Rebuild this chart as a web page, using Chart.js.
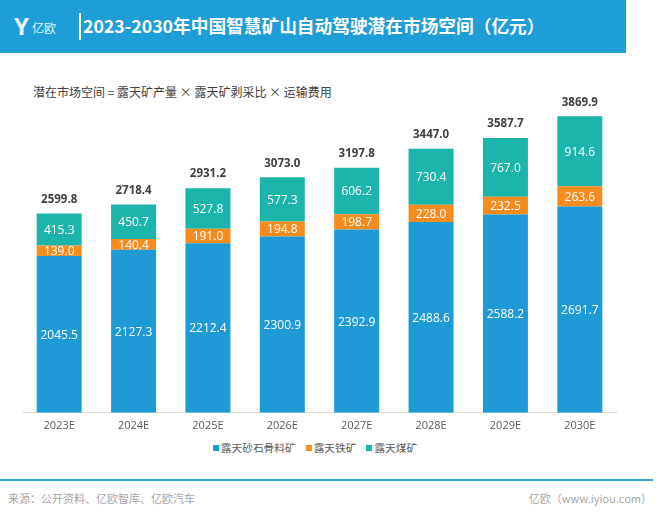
<!DOCTYPE html>
<html><head><meta charset="utf-8">
<script src="https://cdn.jsdelivr.net/npm/chart.js@4/dist/chart.umd.min.js"></script>
<style>
html,body{margin:0;padding:0;background:#fff;width:660px;height:528px;overflow:hidden;font-family:"Noto Sans CJK SC","Open Sans",sans-serif;}
#hdr{position:absolute;left:0;top:0;width:626px;height:53px;background:#1f9dd6;}
#logo{position:absolute;left:12px;top:13px;color:#fff;}
#logoY{position:absolute;left:2px;top:0;font:bold 24px "Open Sans",sans-serif;color:#e8f4fb;line-height:26px;}
#logoT{position:absolute;left:20px;top:8px;font:12px "Noto Sans CJK SC";color:#e8f4fb;white-space:nowrap;line-height:14px;}
#vl{position:absolute;left:79px;top:13px;width:1.5px;height:27px;background:#fff;}
#title{position:absolute;left:83px;top:12px;font:bold 17.7px "Noto Sans CJK SC";color:#fff;line-height:26px;white-space:nowrap;}
#sub{position:absolute;left:33px;top:83px;font:12px "Noto Sans CJK SC";color:#404040;white-space:nowrap;}
#fl{position:absolute;left:0;top:479px;width:653px;height:2px;background:#3aa3cf;}
#src{position:absolute;left:8px;top:490px;font:11px "Noto Sans CJK SC";color:#a6a6a6;}
#site{position:absolute;right:8px;top:490px;font:11px "Noto Sans CJK SC","Open Sans";color:#a6a6a6;}
#wrap{position:absolute;left:0;top:60px;width:660px;height:378px;}
#legend{position:absolute;left:0;top:440px;width:630px;text-align:center;font:10.7px "Noto Sans CJK SC";color:#595959;white-space:nowrap;}
#legend span.it{display:inline-block;margin:0 5px;}
#legend i{display:inline-block;width:6px;height:6px;margin-right:2px;vertical-align:1px;}
</style></head><body>
<div id="hdr">
 <div id="logo"><div id="logoY">Y</div><div id="logoT">亿欧</div></div>
 <div id="vl"></div>
 <div id="title">2023-2030年中国智慧矿山自动驾驶潜在市场空间（亿元）</div>
</div>
<div id="sub">潜在市场空间 = 露天矿产量 × 露天矿剥采比 × 运输费用</div>
<div id="wrap"><canvas id="c" width="660" height="378"></canvas></div>
<div id="legend"></div>
<div id="fl"></div>
<div id="src">来源：公开资料、亿欧智库、亿欧汽车</div>
<div id="site">亿欧（www.iyiou.com）</div>
<script>
const categories = ["2023E","2024E","2025E","2026E","2027E","2028E","2029E","2030E"];
const sandGravel = [2045.5,2127.3,2212.4,2300.9,2392.9,2488.6,2588.2,2691.7];
const ironOre   = [139.0,140.4,191.0,194.8,198.7,228.0,232.5,263.6];
const coal      = [415.3,450.7,527.8,577.3,606.2,730.4,767.0,914.6];
const totals    = [2599.8,2718.4,2931.2,3073.0,3197.8,3447.0,3587.7,3869.9];
const seriesNames = ["露天砂石骨料矿","露天铁矿","露天煤矿"];
const seriesColors = ['#1e9ad6','#f68b1f','#1bb5ac'];

const labelPlugin = {
  id:'lbl',
  afterDatasetsDraw(chart){
    const ctx = chart.ctx;
    ctx.save();
    ctx.textAlign='center'; ctx.textBaseline='middle';
    chart.data.datasets.forEach((ds,di)=>{
      const meta = chart.getDatasetMeta(di);
      meta.data.forEach((bar,i)=>{
        const y=(bar.y+bar.base)/2;
        ctx.font='12px "Open Sans", sans-serif';
        ctx.fillStyle='#ffffff';
        ctx.fillText(ds.data[i].toFixed(1), bar.x, y+1);
      });
    });
    const top = chart.getDatasetMeta(chart.data.datasets.length-1);
    top.data.forEach((bar,i)=>{
      ctx.font='bold 11.5px "Open Sans", sans-serif';
      ctx.fillStyle='#404040';
      ctx.fillText(totals[i].toFixed(1), bar.x, bar.y-14);
    });
    ctx.restore();
  }
};

const lg=document.getElementById('legend');
seriesNames.forEach((n,i)=>{
  const s=document.createElement('span');s.className='it';
  s.innerHTML='<i style="background:'+seriesColors[i]+'"></i>'+n;
  lg.appendChild(s);
});

const chart = new Chart(document.getElementById('c'),{
  type:'bar',
  data:{labels:categories,datasets:seriesNames.map((n,i)=>({
    label:n,data:[sandGravel,ironOre,coal][i],backgroundColor:seriesColors[i]}))},
  options:{
    responsive:false,animation:false,
    layout:{padding:{left:22,right:43,top:8,bottom:0}},
    datasets:{bar:{barPercentage:1,categoryPercentage:0.605}},
    plugins:{legend:{display:false},tooltip:{enabled:false}},
    scales:{
      x:{stacked:true,grid:{display:false,drawTicks:false},border:{color:'#e3dcd6'},ticks:{color:'#595959',padding:6,font:{family:'"Open Sans"',size:11}}},
      y:{stacked:true,display:false,min:0,max:4500}
    }
  },
  plugins:[labelPlugin]
});
</script>
</body></html>
